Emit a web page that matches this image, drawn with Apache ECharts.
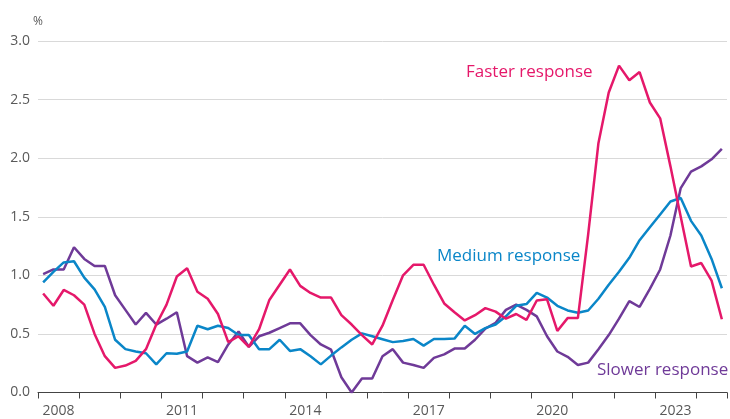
<!DOCTYPE html>
<html>
<head>
<meta charset="utf-8">
<script src="https://cdn.jsdelivr.net/npm/echarts@6/dist/echarts.min.js"></script>
<style>
  html, body { margin: 0; padding: 0; background: #ffffff; }
  #chart { width: 730px; height: 419px; }
</style>
</head>
<body>
<div id="chart"></div>
<script>
// Quarterly observations, 2008 Q1 onwards
const startYear = 2008;
const yearTickLabels = ['2008', '2011', '2014', '2017', '2020', '2023'];
const yTickLabels = ['0.0', '0.5', '1.0', '1.5', '2.0', '2.5', '3.0'];
const seriesNames = ['Slower response', 'Medium response', 'Faster response'];

const fasterResponse = [
  0.845, 0.74, 0.875, 0.83, 0.75, 0.50, 0.31, 0.21, 0.23, 0.27, 0.37, 0.58,
  0.75, 0.99, 1.06, 0.86, 0.80, 0.67, 0.43, 0.48, 0.39, 0.54, 0.79, 0.92,
  1.05, 0.91, 0.85, 0.81, 0.81, 0.66, 0.58, 0.49, 0.41, 0.57, 0.79, 1.00,
  1.09, 1.09, 0.92, 0.76, 0.685, 0.615, 0.66, 0.72, 0.69, 0.63, 0.67, 0.62,
  0.785, 0.795, 0.525, 0.635, 0.635, 1.35, 2.13, 2.56, 2.79, 2.665, 2.735, 2.475,
  2.34, 1.93, 1.50, 1.075, 1.105, 0.955, 0.625
];
const mediumResponse = [
  0.94, 1.03, 1.11, 1.12, 0.98, 0.88, 0.73, 0.45, 0.37, 0.35, 0.335, 0.24,
  0.335, 0.33, 0.35, 0.57, 0.54, 0.57, 0.55, 0.49, 0.49, 0.37, 0.37, 0.45,
  0.355, 0.37, 0.31, 0.24, 0.315, 0.385, 0.45, 0.505, 0.48, 0.455, 0.43, 0.44,
  0.457, 0.40, 0.457, 0.457, 0.46, 0.57, 0.50, 0.55, 0.58, 0.65, 0.74, 0.755,
  0.85, 0.81, 0.74, 0.70, 0.68, 0.70, 0.80, 0.92, 1.03, 1.15, 1.30, 1.41,
  1.52, 1.63, 1.66, 1.465, 1.34, 1.14, 0.89
];
const slowerResponse = [
  1.01, 1.05, 1.05, 1.24, 1.14, 1.08, 1.08, 0.83, 0.705, 0.58, 0.68, 0.58,
  0.63, 0.685, 0.31, 0.255, 0.30, 0.26, 0.41, 0.52, 0.39, 0.48, 0.51, 0.55,
  0.59, 0.59, 0.49, 0.41, 0.365, 0.13, 0.0, 0.12, 0.12, 0.31, 0.37, 0.255,
  0.235, 0.21, 0.295, 0.325, 0.375, 0.375, 0.45, 0.545, 0.595, 0.705, 0.75, 0.705,
  0.65, 0.48, 0.35, 0.305, 0.235, 0.255, 0.37, 0.49, 0.63, 0.78, 0.73, 0.885,
  1.05, 1.34, 1.745, 1.885, 1.93, 1.99, 2.08
];

const COLORS = { faster: '#E5186A', medium: '#0A86C8', slower: '#6F3A98' };
const FONT = "'Open Sans', 'Noto Sans', sans-serif";
const AXIS_TEXT = '#595959';

// Quarter mid-points in decimal years
function toPoints(values) {
  return values.map((v, i) => [startYear + (i + 0.5) / 4, v]);
}
const xMax = startYear + fasterResponse.length / 4;

const chart = echarts.init(document.getElementById('chart'), null, { renderer: 'canvas' });

chart.setOption({
  animation: false,
  backgroundColor: '#ffffff',
  textStyle: { fontFamily: FONT },
  grid: { left: 38, right: 0, top: 41, bottom: 26.5, containLabel: false },
  xAxis: [
    {
      type: 'value',
      min: startYear,
      max: xMax,
      interval: 1,
      position: 'bottom',
      axisLine: { show: true, lineStyle: { color: '#444444', width: 1 } },
      axisTick: { show: true, length: 6, lineStyle: { color: '#444444', width: 1 } },
      axisLabel: { show: false },
      splitLine: { show: false }
    },
    {
      type: 'value',
      min: startYear,
      max: xMax,
      interval: 0.5,
      position: 'bottom',
      axisLine: { show: false },
      axisTick: { show: false },
      splitLine: { show: false },
      axisLabel: {
        show: true,
        margin: 12,
        color: AXIS_TEXT,
        fontFamily: FONT,
        fontSize: 14,
        showMinLabel: true,
        showMaxLabel: true,
        formatter: function (v) {
          if (Math.abs(v % 1 - 0.5) > 1e-6) return '';
          const y = String(Math.floor(v));
          return yearTickLabels.indexOf(y) >= 0 ? y : '';
        }
      }
    }
  ],
  yAxis: {
    type: 'value',
    min: 0,
    max: 3,
    interval: 0.5,
    name: '%',
    nameLocation: 'end',
    nameGap: 13,
    nameTextStyle: { color: AXIS_TEXT, fontFamily: FONT, fontSize: 12, align: 'center' },
    axisLine: { show: false },
    axisTick: { show: false },
    axisLabel: {
      color: AXIS_TEXT,
      fontFamily: FONT,
      fontSize: 14,
      margin: 8,
      formatter: function (v) {
        return yTickLabels[Math.round(v / 0.5)] || v.toFixed(1);
      }
    },
    splitLine: { show: true, lineStyle: { color: '#d9d9d9', width: 1 } }
  },
  series: [
    {
      name: seriesNames[0], type: 'line', xAxisIndex: 0, symbol: 'none',
      lineStyle: { color: COLORS.slower, width: 2.5 },
      itemStyle: { color: COLORS.slower },
      data: toPoints(slowerResponse)
    },
    {
      name: seriesNames[1], type: 'line', xAxisIndex: 0, symbol: 'none',
      lineStyle: { color: COLORS.medium, width: 2.5 },
      itemStyle: { color: COLORS.medium },
      data: toPoints(mediumResponse)
    },
    {
      name: seriesNames[2], type: 'line', xAxisIndex: 0, symbol: 'none',
      lineStyle: { color: COLORS.faster, width: 2.5 },
      itemStyle: { color: COLORS.faster },
      data: toPoints(fasterResponse)
    }
  ],
  graphic: [
    {
      type: 'text', left: 466, top: 64,
      style: { text: seriesNames[2], fill: COLORS.faster, font: '17px ' + FONT }
    },
    {
      type: 'text', left: 437, top: 248,
      style: { text: seriesNames[1], fill: COLORS.medium, font: '17px ' + FONT }
    },
    {
      type: 'text', left: 597, top: 362,
      style: { text: seriesNames[0], fill: COLORS.slower, font: '17px ' + FONT }
    }
  ]
});
</script>
</body>
</html>
